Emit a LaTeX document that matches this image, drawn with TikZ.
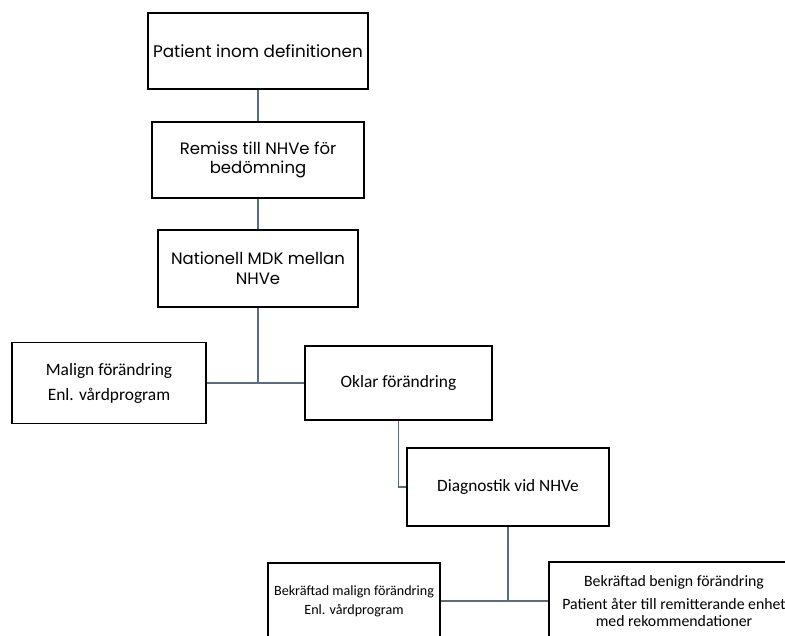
\documentclass[tikz,border=0pt]{standalone}
\usepackage{fontspec}
\setmainfont{Carlito}
\newfontfamily\gothic{Poppins}

\begin{document}
\begin{tikzpicture}[x=1pt, y=-1pt,
    box/.style={draw, rectangle, line width=1.1pt, align=center, inner sep=2pt},
    link/.style={line width=1.6pt, slate}]
  \definecolor{slate}{HTML}{5B6B80}

  \useasboundingbox (0,0) rectangle (785,635);
  \clip (0,0) rectangle (785,635);

  % Define positions
  \node (patient) [box, minimum width=220pt, minimum height=76pt, font=\gothic\fontsize{16.8}{20}\selectfont] at (258, 51)
    {Patient inom definitionen};

  \node (remiss) [box, minimum width=212pt, minimum height=76pt, font=\gothic\fontsize{16.5}{19.5}\selectfont] at (258, 160)
    {Remiss till NHVe för\\bedömning};

  \node (mdk) [box, minimum width=200pt, minimum height=77pt, font=\gothic\fontsize{16.5}{19.5}\selectfont] at (258, 268.5)
    {Nationell MDK mellan\\NHVe};

  \node (malign) [box, minimum width=194pt, minimum height=81pt, font=\fontsize{17.4}{21}\selectfont] at (109, 383)
    {Malign förändring\\[4pt]Enl. vårdprogram};

  \node (oklar) [box, minimum width=187pt, minimum height=74pt, font=\fontsize{17.4}{21}\selectfont] at (398.5, 383)
    {Oklar förändring};

  \node (diag) [box, minimum width=202pt, minimum height=78pt, font=\fontsize{17.3}{21}\selectfont] at (508, 487)
    {Diagnostik vid NHVe};

  \node (bmalign) [box, minimum width=172pt, minimum height=76pt, font=\fontsize{14.1}{17}\selectfont] at (354, 601)
    {Bekräftad malign förändring\\[2pt]Enl. vårdprogram};

  \node (benign) [box, minimum width=250pt, minimum height=78pt, font=\fontsize{15.8}{17}\selectfont] at (674, 601)
    {Bekräftad benign förändring\\[6pt]Patient åter till remitterande enhet\\med rekommendationer};

  % Connectors
  \coordinate (split) at (mdk.south |- oklar.west);
  \coordinate (fork) at (diag.south |- benign.west);
  \draw[link] (patient) -- (remiss);
  \draw[link] (remiss) -- (mdk);
  \draw[link] (mdk) -- (split);
  \draw[link] (malign) -- (oklar);
  \draw[link] (oklar.south) |- (diag.west);
  \draw[link] (diag) -- (fork);
  \draw[link] (bmalign) -- (benign);
\end{tikzpicture}
\end{document}
